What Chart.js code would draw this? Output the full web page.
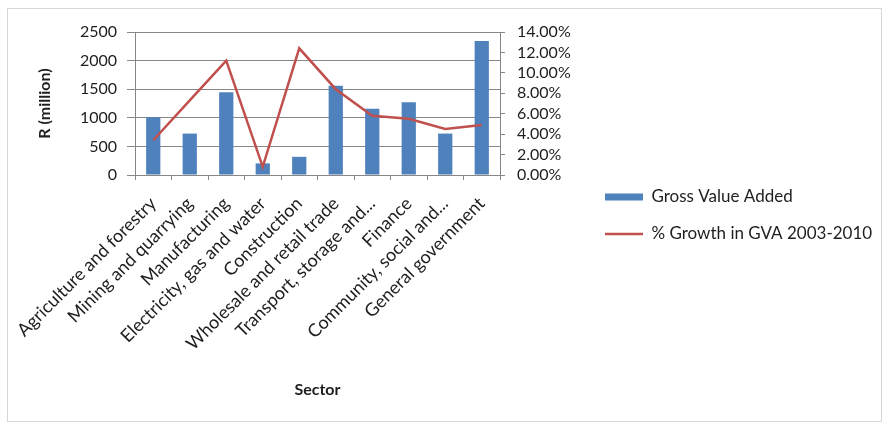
<!DOCTYPE html>
<html>
<head>
<meta charset="utf-8">
<script src="https://cdn.jsdelivr.net/npm/chart.js@4.4.1/dist/chart.umd.min.js"></script>
<style>
    html, body { margin: 0; padding: 0; background: #fff; }
    #wrap { position: relative; width: 888px; height: 424px; }
    #frame { position: absolute; left: 7px; top: 8px; width: 873px; height: 412px; border: 1px solid #d6d6d6; }
    canvas { position: absolute; left: 0; top: 0; }
</style>
</head>
<body>
<div id="wrap">
    <div id="frame"></div>
    <canvas id="chart" width="888" height="424"></canvas>
</div>
<script>
// Sectors on the x axis
const sectors = [
    'Agriculture and forestry',
    'Mining and quarrying',
    'Manufacturing',
    'Electricity, gas and water',
    'Construction',
    'Wholesale and retail trade',
    'Transport, storage and...',
    'Finance',
    'Community, social and...',
    'General government'
];

// Gross value added, R million (left axis)
const gvaValues = [1010, 724, 1446, 203, 318, 1562, 1158, 1273, 724, 2344];

// % growth in GVA 2003-2010 (right axis)
const growthPct = [3.4, 7.3, 11.2, 0.8, 12.4, 8.4, 5.8, 5.5, 4.5, 4.9];

// Axis tick settings
const leftTicks = { min: 0, max: 2500, step: 500 };
const rightTicks = { min: 0, max: 14, step: 2 };

const fontFamily = 'Lato, "Liberation Sans", sans-serif';
const textColor = '#1e1e1e';
const gridColor = '#878787';

// legend sizing - the legend is pinned so its first box starts at x=605
const legendFont = 17;
const legendPad = 20;
const legendBox = 38;
const legendLeft = 605 - legendPad;

const measure = document.createElement('canvas').getContext('2d');
measure.font = legendFont + 'px ' + fontFamily;
const longestLabel = Math.max(
    measure.measureText('Gross Value Added').width,
    measure.measureText('% Growth in GVA 2003-2010').width
);
const legendWidth = legendPad + legendBox + legendFont / 2 + longestLabel + 10;
const rightPad = Math.max(0, 888 - legendLeft - legendWidth);

const ctx = document.getElementById('chart').getContext('2d');

new Chart(ctx, {
    data: {
        labels: sectors,
        datasets: [
            {
                type: 'line',
                label: '% Growth in GVA 2003-2010',
                data: growthPct,
                yAxisID: 'y1',
                borderColor: '#C0504D',
                backgroundColor: '#C0504D',
                borderWidth: 2.5,
                pointRadius: 0,
                pointStyle: 'line',
                tension: 0,
                order: 1
            },
            {
                type: 'bar',
                label: 'Gross Value Added',
                data: gvaValues,
                yAxisID: 'y',
                backgroundColor: '#4F81BD',
                borderWidth: 0,
                pointStyle: 'rect',
                barPercentage: 0.39,
                categoryPercentage: 1,
                order: 2
            }
        ]
    },
    options: {
        responsive: false,
        animation: false,
        layout: {
            padding: { left: 35, right: rightPad, top: 32, bottom: 25 }
        },
        plugins: {
            title: { display: false },
            tooltip: { enabled: false },
            legend: {
                position: 'right',
                reverse: true,
                maxWidth: 400,
                labels: {
                    usePointStyle: true,
                    pointStyleWidth: legendBox,
                    boxHeight: 7,
                    padding: legendPad,
                    color: textColor,
                    font: { family: fontFamily, size: legendFont }
                }
            }
        },
        scales: {
            x: {
                grid: {
                    offset: true,
                    drawOnChartArea: false,
                    drawTicks: true,
                    tickLength: 5,
                    color: gridColor
                },
                border: { color: gridColor },
                ticks: {
                    minRotation: 45,
                    maxRotation: 45,
                    autoSkip: false,
                    padding: 13,
                    color: textColor,
                    font: { family: fontFamily, size: 18 }
                },
                title: {
                    display: true,
                    text: 'Sector',
                    color: textColor,
                    font: { family: fontFamily, size: 16, weight: 'bold' },
                    padding: 0
                },
                afterFit(scale) { scale.height = 224; }
            },
            y: {
                position: 'left',
                min: leftTicks.min,
                max: leftTicks.max,
                grid: { color: gridColor, tickLength: 8 },
                border: { color: gridColor },
                ticks: {
                    stepSize: leftTicks.step,
                    padding: 10,
                    color: textColor,
                    font: { family: fontFamily, size: 16 },
                    callback: v => String(v)
                },
                title: {
                    display: true,
                    text: 'R (million)',
                    color: textColor,
                    font: { family: fontFamily, size: 16, weight: 'bold' },
                    padding: 0
                },
                afterFit(scale) { scale.width = 100; }
            },
            y1: {
                position: 'right',
                min: rightTicks.min,
                max: rightTicks.max,
                grid: { drawOnChartArea: false, color: gridColor, tickLength: 5 },
                border: { color: gridColor },
                ticks: {
                    stepSize: rightTicks.step,
                    autoSkip: false,
                    padding: 12,
                    color: textColor,
                    font: { family: fontFamily, size: 16 },
                    callback: v => v.toFixed(2) + '%'
                },
                afterFit(scale) { scale.width = legendLeft - 500; }
            }
        }
    }
});
</script>
</body>
</html>
